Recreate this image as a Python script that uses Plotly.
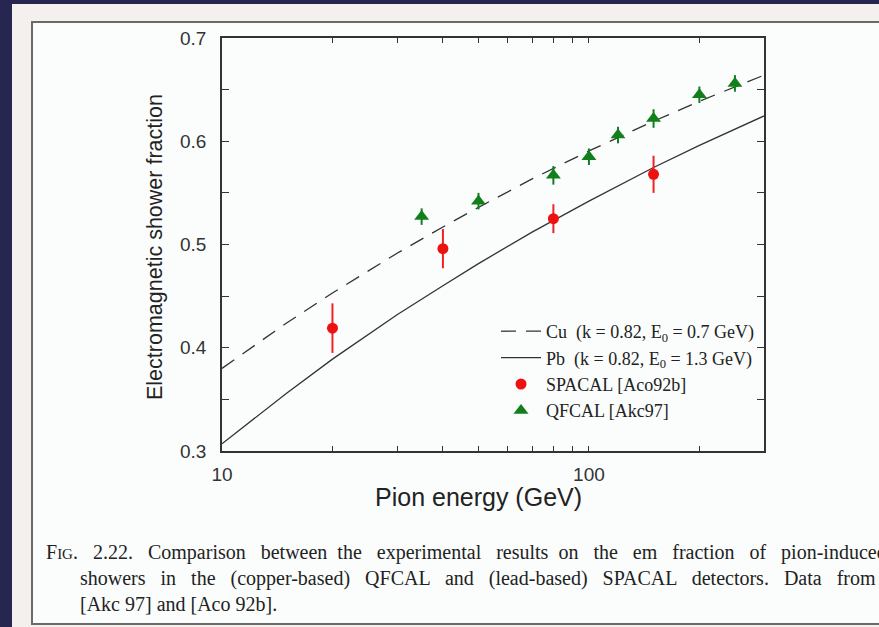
import plotly.graph_objects as go

# ---- data ----
curve_energy = [10, 15, 20, 30, 40, 50, 70, 100, 150, 200, 300]
cu_fraction = [0.380, 0.424, 0.453, 0.4915, 0.517, 0.536, 0.5635, 0.5906, 0.6194, 0.6387, 0.664]
pb_fraction = [0.307, 0.356, 0.389, 0.432, 0.460, 0.4815, 0.512, 0.542, 0.5746, 0.596, 0.6245]

spacal_energy = [20, 40, 80, 150]
spacal_fraction = [0.419, 0.496, 0.525, 0.568]
spacal_error = [0.024, 0.019, 0.014, 0.018]

qfcal_energy = [35, 50, 80, 100, 120, 150, 200, 250]
qfcal_fraction = [0.527, 0.542, 0.567, 0.585, 0.606, 0.622, 0.645, 0.656]
qfcal_error = [0.008, 0.008, 0.009, 0.008, 0.008, 0.009, 0.008, 0.008]

x_tickvals = [10, 20, 30, 40, 50, 60, 70, 80, 90, 100, 200]
x_ticktext = ["10", "", "", "", "", "", "", "", "", "100", ""]
y_tickvals = [0.3, 0.35, 0.4, 0.45, 0.5, 0.55, 0.6, 0.65, 0.7]
y_ticktext = ["0.3", "", "0.4", "", "0.5", "", "0.6", "", "0.7"]

legend_names = [
    "Cu\u00a0\u00a0(k = 0.82, E<sub>0</sub> = 0.7 GeV)",
    "Pb\u00a0\u00a0(k = 0.82, E<sub>0</sub> = 1.3 GeV)",
    "SPACAL [Aco92b]",
    "QFCAL [Akc97]",
]

caption_lines = [
    "F<span style='font-size:15px'>IG</span>.   2.22.   Comparison   between  the   experimental   results  on   the   em   fraction   of   pion-induced",
    "showers   in   the   (copper-based)   QFCAL   and   (lead-based)   SPACAL   detectors.   Data   from",
    "[Akc 97] and [Aco 92b].",
]

# ---- layout geometry (pixels) ----
W, H = 879, 627
L, R, T, B = 222, 764, 38, 451


def px(x):
    return (x - L) / (R - L)


def py(y):
    return (B - y) / (B - T)


AX = "Liberation Sans, Arial, sans-serif"
SERIF = "Liberation Serif, Times New Roman, serif"

fig = go.Figure()
fig.add_trace(go.Scatter(x=curve_energy, y=cu_fraction, mode="lines",
                         line=dict(color="#333333", width=1.3, dash="15px,10px"),
                         name=legend_names[0]))
fig.add_trace(go.Scatter(x=curve_energy, y=pb_fraction, mode="lines",
                         line=dict(color="#333333", width=1.3),
                         name=legend_names[1]))
fig.add_trace(go.Scatter(x=spacal_energy, y=spacal_fraction, mode="markers",
                         marker=dict(color="#ee1111", size=11, symbol="circle"),
                         error_y=dict(type="data", array=spacal_error, color="#ee2222",
                                      thickness=2, width=0),
                         name=legend_names[2]))
fig.add_trace(go.Scatter(x=qfcal_energy, y=qfcal_fraction, mode="markers",
                         marker=dict(color="#11801c", size=13, symbol="triangle-up"),
                         error_y=dict(type="data", array=qfcal_error, color="#11801c",
                                      thickness=2, width=0),
                         name=legend_names[3]))

axis_common = dict(showline=True, linecolor="#333333", linewidth=1.5, mirror="ticks",
                   ticks="inside", tickcolor="#333333", tickwidth=1,
                   showgrid=False, zeroline=False,
                   tickfont=dict(family=AX, size=19, color="#333333"))

fig.update_xaxes(type="log", range=[1, 2.4771], tickvals=x_tickvals, ticktext=x_ticktext,
                 ticklen=5, ticklabelstandoff=5, **axis_common)
fig.update_yaxes(range=[0.3, 0.7], tickvals=y_tickvals, ticktext=y_ticktext,
                 ticklen=7, ticklabelstandoff=10, **axis_common)

shapes = [
    dict(type="rect", xref="paper", yref="paper", x0=px(12), x1=px(W + 5), y0=py(W), y1=py(4),
         fillcolor="#f3f0ed", line=dict(width=0), layer="below"),
    dict(type="rect", xref="paper", yref="paper", x0=px(32), x1=px(W + 20), y0=py(624), y1=py(22),
         fillcolor="#fbfdfd", line=dict(color="#6a6a6a", width=2), layer="below"),
]

annotations = [
    dict(text="Electromagnetic shower fraction", xref="paper", yref="paper",
         x=px(155), y=py(247), textangle=-90, showarrow=False,
         font=dict(family=AX, size=21.5, color="#222222"), xanchor="center", yanchor="middle"),
    dict(text="Pion energy (GeV)", xref="paper", yref="paper",
         x=px(478), y=py(497), showarrow=False,
         font=dict(family=AX, size=25, color="#222222"), xanchor="center", yanchor="middle"),
]
for i, (line_text, x0) in enumerate(zip(caption_lines, [44, 78, 78])):
    annotations.append(dict(text=line_text, xref="paper", yref="paper",
                            x=px(x0), y=py(552 + 26 * i), showarrow=False,
                            font=dict(family=SERIF, size=20, color="#222222"),
                            xanchor="left", yanchor="middle"))

fig.update_layout(
    width=W, height=H,
    margin=dict(l=L, r=W - R, t=T, b=H - B, autoexpand=False),
    paper_bgcolor="#262650", plot_bgcolor="#fdfefe",
    shapes=shapes, annotations=annotations,
    showlegend=True,
    legend=dict(x=px(760), y=py(429), xanchor="right", yanchor="bottom",
                bgcolor="rgba(0,0,0,0)", borderwidth=0,
                font=dict(family=SERIF, size=18, color="#222222"),
                tracegroupgap=0, itemwidth=40),
)

fig.write_html("out.html")
